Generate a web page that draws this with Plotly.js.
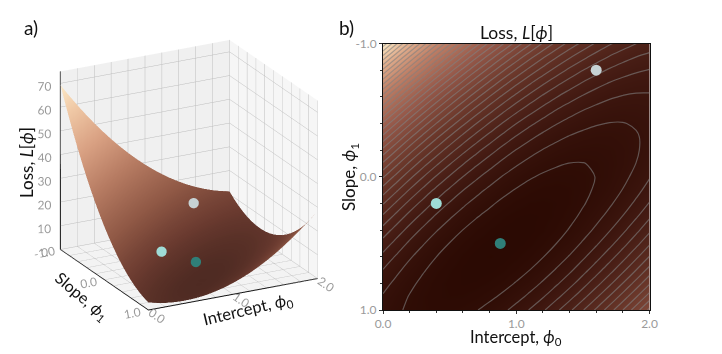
<!DOCTYPE html>
<html><head><meta charset="utf-8">
<script src="https://cdn.plot.ly/plotly-3.0.1.min.js"></script>
<style>html,body{margin:0;padding:0;background:#fff}#c{width:722px;height:354px}</style>
</head><body><div id="c"></div>
<script>
const phi0 = [0,0.1,0.2,0.3,0.4,0.5,0.6,0.7,0.8,0.9,1,1.1,1.2,1.3,1.4,1.5,1.6,1.7,1.8,1.9,2];
const phi1 = [-1,-0.9,-0.8,-0.7,-0.6,-0.5,-0.4,-0.3,-0.2,-0.1,0,0.1,0.2,0.3,0.4,0.5,0.6,0.7,0.8,0.9,1];
const loss = [
[69.34,64.33,59.53,54.96,50.61,46.49,42.58,38.90,35.44,32.20,29.19,26.39,23.82,21.47,19.34,17.44,15.75,14.29,13.05,12.03,11.24],
[63.37,58.57,53.97,49.61,45.47,41.56,37.86,34.39,31.14,28.10,25.30,22.71,20.35,18.21,16.29,14.60,13.12,11.86,10.83,10.02,9.44],
[57.68,53.09,48.69,44.54,40.61,36.91,33.42,30.16,27.12,24.28,21.69,19.31,17.16,15.23,13.52,12.04,10.77,9.71,8.89,8.29,7.92],
[52.27,47.88,43.69,39.75,36.03,32.54,29.26,26.21,23.38,20.74,18.36,16.19,14.25,12.53,11.03,9.76,8.69,7.84,7.23,6.84,6.68],
[47.14,42.96,38.97,35.24,31.73,28.45,25.38,22.54,19.92,17.48,15.31,13.35,11.62,10.11,8.82,7.76,6.90,6.25,5.85,5.67,5.72],
[42.29,38.32,34.53,31.01,27.71,24.64,21.78,19.15,16.74,14.51,12.54,10.79,9.27,7.97,6.89,6.04,5.39,4.95,4.75,4.78,5.04],
[37.72,33.96,30.37,27.06,23.97,21.11,18.46,16.04,13.84,11.82,10.05,8.51,7.20,6.11,5.24,4.60,4.16,3.93,3.93,4.17,4.64],
[33.43,29.88,26.50,23.39,20.51,17.86,15.42,13.21,11.22,9.41,7.85,6.51,5.41,4.53,3.87,3.44,3.21,3.19,3.40,3.84,4.52],
[29.42,26.08,22.90,20.00,17.33,14.89,12.66,10.66,8.88,7.28,5.93,4.79,3.90,3.23,2.78,2.56,2.54,2.73,3.14,3.79,4.68],
[25.69,22.56,19.59,16.89,14.43,12.20,10.18,8.39,6.82,5.43,4.29,3.35,2.67,2.21,1.97,1.96,2.15,2.55,3.17,4.02,5.12],
[22.24,19.32,16.56,14.07,11.81,9.79,7.98,6.40,5.04,3.86,2.93,2.20,1.72,1.47,1.44,1.64,2.04,2.65,3.48,4.54,5.84],
[19.07,16.36,13.81,11.53,9.47,7.66,6.06,4.69,3.54,2.57,1.85,1.33,1.05,1.01,1.19,1.60,2.21,3.03,4.07,5.34,6.84],
[16.18,13.68,11.34,9.27,7.42,5.81,4.42,3.26,2.32,1.56,1.05,0.74,0.66,0.83,1.22,1.84,2.66,3.69,4.94,6.42,8.13],
[13.57,11.28,9.15,7.29,5.64,4.24,3.06,2.11,1.38,0.83,0.53,0.43,0.55,0.93,1.53,2.36,3.39,4.63,6.09,7.78,9.69],
[11.24,9.16,7.24,5.59,4.15,2.95,1.98,1.24,0.72,0.38,0.29,0.40,0.73,1.31,2.12,3.16,4.40,5.85,7.52,9.42,11.54],
[9.19,7.32,5.61,4.17,2.94,1.95,1.18,0.65,0.34,0.21,0.33,0.65,1.19,1.98,2.99,4.24,5.69,7.35,9.23,11.34,13.67],
[7.42,5.76,4.26,3.03,2.01,1.23,0.66,0.34,0.24,0.32,0.65,1.18,1.93,2.93,4.14,5.60,7.26,9.13,11.22,13.54,16.08],
[5.93,4.48,3.19,2.17,1.36,0.79,0.43,0.31,0.42,0.71,1.25,1.99,2.95,4.16,5.57,7.24,9.11,11.19,13.49,16.02,18.77],
[4.72,3.48,2.40,1.59,0.99,0.63,0.47,0.56,0.88,1.38,2.13,3.08,4.25,5.67,7.28,9.16,11.24,13.53,16.04,18.78,21.74],
[3.79,2.76,1.89,1.29,0.90,0.75,0.80,1.09,1.62,2.33,3.29,4.45,5.83,7.46,9.28,11.36,13.65,16.15,18.87,21.82,24.99],
[3.14,2.32,1.66,1.27,1.09,1.15,1.41,1.90,2.64,3.56,4.73,6.10,7.69,9.53,11.56,13.84,16.34,19.05,21.98,25.14,28.52]
];
const pointPhi0 = [1.6, 0.4, 0.88];
const pointPhi1 = [-0.8, 0.2, 0.5];
const surfacePhi0 = [1.385, 0.57, 0.82];
const surfacePhi1 = [-0.636, 0.2, 0.5];
const surfaceLoss = [15.05, 10.7, 8.5];
const pointColors = ['#c6d2d4', '#9fdcd6', '#2f7f78'];
const tickVals2 = [-1, 0, 1], tickText2 = ['-1.0','0.0','1.0'];
const gridX = [0,0.2,0.4,0.6,0.8,1,1.2,1.4,1.6,1.8,2];
const gridXText = ['0.0','','','','','1.0','','','','','2.0'];
const gridY = [-1,-0.8,-0.6,-0.4,-0.2,0,0.2,0.4,0.6,0.8,1];
const gridYText = ['-1.0','','','','','0.0','','','','','1.0'];
const copper = [[0,'#2a0902'],[0.12,'#431a12'],[0.3,'#6a372a'],[0.5,'#96594a'],[0.7,'#bf8067'],[0.85,'#e0ad8d'],[0.95,'#f5d9b5'],[1,'#fff1cf']];
const copperMeshed = [[0,'#4e2a22'],[0.1,'#6b3b30'],[0.25,'#8f5845'],[0.45,'#b67b62'],[0.65,'#d9a183'],[0.85,'#f0c9a6'],[1,'#fdeccb']];
const INK = '#111', TICK = '#9a9a9a', FONT = 'Lato, "Noto Sans", sans-serif';
const gridC = '#bdbdbd';

const axis3 = (range, dtick, pane) => ({
  range, dtick, title:{text:''}, showbackground:true, backgroundcolor:pane, gridcolor:gridC, gridwidth:1,
  showline:true, linecolor:'#111', linewidth:2, zeroline:false, ticks:'outside', ticklen:0, tickcolor:'rgba(0,0,0,0)', showspikes:false,
  tickfont:{family:FONT, size:12, color:TICK}, tickformat:'.1f'
});

const traces = [
 {type:'surface', x:phi0, y:phi1, z:loss, colorscale:copperMeshed, cmin:0, cmax:70, showscale:false, hoverinfo:'skip',
  lighting:{ambient:1, diffuse:0, specular:0, fresnel:0, roughness:1}, scene:'scene'},
 {type:'scatter3d', mode:'markers', x:surfacePhi0, y:surfacePhi1, z:surfaceLoss, hoverinfo:'skip', scene:'scene',
  marker:{size:6, color:pointColors, line:{width:0}}},
 {type:'heatmap', x:phi0, y:phi1, z:loss, colorscale:copper, zmin:0, zmax:70, zsmooth:'best', showscale:false, hoverinfo:'skip', xaxis:'x', yaxis:'y'},
 {type:'contour', x:phi0, y:phi1, z:loss, autocontour:false, contours:{start:2, end:70, size:2, coloring:'none'},
  line:{color:'rgba(128,128,128,0.6)', width:1.2, smoothing:1}, showscale:false, hoverinfo:'skip', xaxis:'x', yaxis:'y'},
 {type:'scatter', mode:'markers', x:pointPhi0, y:pointPhi1, hoverinfo:'skip', xaxis:'x', yaxis:'y',
  marker:{size:11, color:pointColors, line:{width:0}}}
];

const W = 722, H = 354;
const note = (text, x, y, size, angle) => ({text, x:x/W, y:1-y/H, xref:'paper', yref:'paper', showarrow:false,
  xanchor:'center', yanchor:'middle', textangle:angle||0, font:{family:FONT, size, color:INK}});
const layout = {
 width:W, height:H, margin:{l:0,r:0,t:0,b:0}, paper_bgcolor:'#fff', plot_bgcolor:'#fff', showlegend:false, font:{family:FONT},
 scene:{domain:{x:[0,0.5235],y:[0.023,0.99]}, aspectmode:'manual', aspectratio:{x:1.115,y:1.115,z:1.115},
  camera:{eye:{x:-0.949,y:-1.823,z:0.788}, center:{x:0,y:0,z:0}, up:{x:0,y:0,z:1}, projection:{type:'orthographic'}},
  xaxis:{...axis3([0,2],1,'#f6f6f6'), tickvals:gridX, ticktext:gridXText},
  yaxis:{...axis3([1,-1],1,'#f0f0f0'), tickvals:gridY, ticktext:gridYText},
  zaxis:{...axis3([0,75],10,'#f3f3f3'), tickformat:'d', tickangle:0}},
 xaxis:{domain:[383/W,649.5/W], range:[0,2], dtick:1, tickformat:'.1f', ticks:'outside', ticklen:3, tickcolor:'#333',
  tickfont:{family:FONT,size:12,color:TICK}, showgrid:false, zeroline:false, showline:true, mirror:true, linecolor:'#111', linewidth:1,
  minor:{dtick:0.2, ticks:'outside', ticklen:2, tickcolor:'#333'}, anchor:'y'},
 yaxis:{domain:[1-310/H,1-43.5/H], range:[1,-1], tickvals:tickVals2, ticktext:tickText2, ticks:'outside', ticklen:3, tickcolor:'#333',
  tickfont:{family:FONT,size:12,color:TICK}, showgrid:false, zeroline:false, showline:true, mirror:true, linecolor:'#111', linewidth:1,
  minor:{dtick:0.2, ticks:'outside', ticklen:2, tickcolor:'#333'}, anchor:'x'},
 annotations:[
  note('a)',31,27,19), note('b)',346,27,19),
  note('Loss, <i>L</i>[<i>ϕ</i>]',516,33,17.5),
  note('Intercept, <i>ϕ</i><sub>0</sub>',516,337,16.5),
  note('Slope, <i>ϕ</i><sub>1</sub>',350,177,17,-90),
  note('Loss, <i>L</i>[<i>ϕ</i>]',26,163,17,-90),
  note('Slope, <i>ϕ</i><sub>1</sub>',82,296,16,40),
  note('Intercept, <i>ϕ</i><sub>0</sub>',248,309,16.5,-13.5)
 ]
};
Plotly.newPlot('c', traces, layout, {displayModeBar:false});
</script></body></html>
